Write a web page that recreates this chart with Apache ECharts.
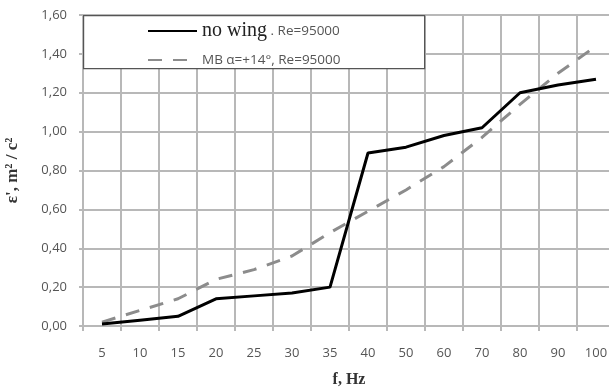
<!DOCTYPE html>
<html><head><meta charset="utf-8">
<script src="https://cdn.jsdelivr.net/npm/echarts@6/dist/echarts.min.js"></script>
<style>html,body{margin:0;padding:0;background:#fff}#c{width:609px;height:388px}</style>
</head><body><div id="c"></div>
<script>
const categories = ['5','10','15','20','25','30','35','40','50','60','70','80','90','100'];
const noWing = [0.01,0.03,0.05,0.14,0.155,0.17,0.20,0.89,0.92,0.98,1.02,1.20,1.24,1.27];
const mbWing = [0.02,0.08,0.14,0.24,0.29,0.36,0.48,0.59,0.70,0.82,0.97,1.14,1.30,1.44];
const yTicks = [0,0.2,0.4,0.6,0.8,1.0,1.2,1.4,1.6];
const seriesNames = ['no wing', 'MB α=+14°, Re=95000'];

const chart = echarts.init(document.getElementById('c'));
const gridColor = '#b8b8b8';
chart.setOption({
  animation: false,
  grid: {left: 83, top: 15, right: -6, bottom: 62, containLabel: false, outerBoundsMode: 'none'},
  graphic: [{
    type: 'rect', left: 83, top: 15, z: 5,
    shape: {width: 341, height: 53},
    style: {fill: '#fff', stroke: '#555', lineWidth: 1.2}
  }],
  legend: {
    orient: 'vertical', left: 147, top: 21, padding: 0, z: 10,
    itemWidth: 49, itemHeight: 14, itemGap: 12,
    itemStyle: {opacity: 0},
    data: seriesNames,
    formatter: function (n) {
      if (n === 'no wing') return '{a|no wing}{b| . Re=95000}';
      return '{b|' + n + '}';
    },
    textStyle: {
      rich: {
        a: {fontFamily: 'Liberation Serif', fontSize: 20, color: '#222'},
        b: {fontFamily: 'Open Sans', fontSize: 13.5, color: '#555'}
      }
    }
  },
  xAxis: {
    type: 'category', data: categories, boundaryGap: true,
    name: 'f, Hz', nameLocation: 'middle', nameGap: 46,
    nameTextStyle: {fontFamily: 'Liberation Serif', fontSize: 16, fontWeight: 'bold', color: '#333'},
    axisLine: {lineStyle: {color: gridColor, width: 2}},
    axisTick: {show: true, length: 5, lineStyle: {color: gridColor, width: 2}},
    axisLabel: {margin: 21, fontFamily: 'Open Sans', fontSize: 13, color: '#555'},
    splitLine: {show: true, lineStyle: {color: gridColor, width: 2}}
  },
  yAxis: {
    type: 'value', min: 0, max: 1.6, interval: 0.2,
    name: "ε', m² / c²", nameLocation: 'middle', nameGap: 62, nameRotate: 90,
    nameTextStyle: {fontFamily: 'Liberation Serif', fontSize: 17, fontWeight: 'bold', color: '#333'},
    axisLine: {show: true, lineStyle: {color: gridColor, width: 2}},
    axisTick: {show: true, length: 4, lineStyle: {color: gridColor, width: 2}},
    axisLabel: {margin: 16, fontFamily: 'Open Sans', fontSize: 13, color: '#555',
      formatter: v => yTicks.some(t => Math.abs(t - v) < 1e-9) ? v.toFixed(2).replace('.', ',') : ''},
    splitLine: {show: true, lineStyle: {color: gridColor, width: 2}}
  },
  series: [
    {name: seriesNames[0], type: 'line', data: noWing, symbol: 'none', z: 4,
      itemStyle: {color: '#000'}, lineStyle: {color: '#000', width: 3}},
    {name: seriesNames[1], type: 'line', data: mbWing, symbol: 'none', z: 3,
      itemStyle: {color: '#8c8c8c'}, lineStyle: {color: '#8c8c8c', width: 3, type: [14, 11]}}
  ]
});
</script></body></html>
